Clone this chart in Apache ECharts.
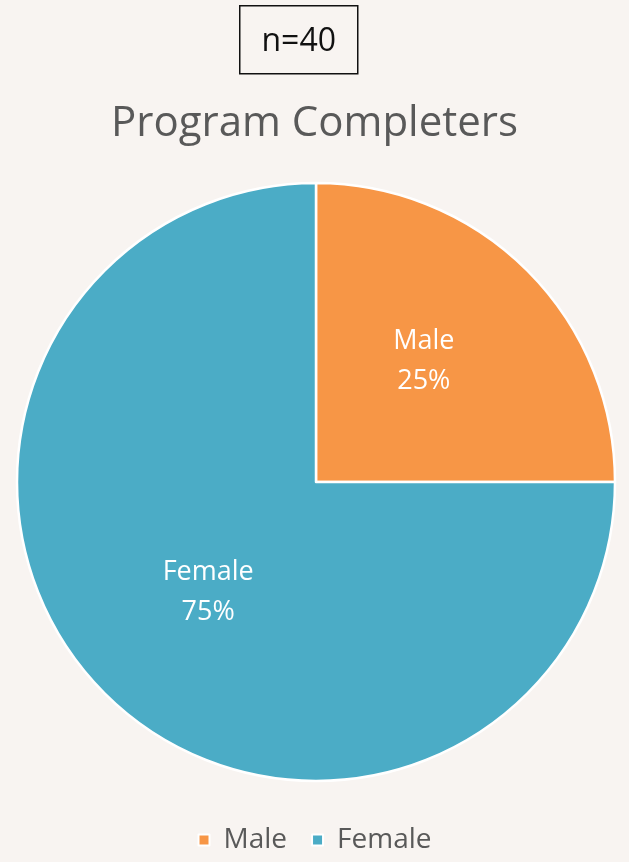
<!DOCTYPE html>
<html><head><meta charset="utf-8">
<script src="https://cdn.jsdelivr.net/npm/echarts@6/dist/echarts.min.js"></script>
<style>html,body{margin:0;padding:0;background:#f8f4f1;}#c{width:629px;height:862px;}</style>
</head><body><div id="c"></div>
<script>
const categories = ["Male", "Female"];
const values = [25, 75];
const colors = ["#F79646", "#4BACC6"];
const titleText = "Program Completers";
const noteText = "n=40";

const chart = echarts.init(document.getElementById('c'));
chart.setOption({
  backgroundColor: '#f8f4f1',
  animation: false,
  graphic: [{
    type: 'group', left: 239, top: 5,
    children: [
      {type: 'rect', shape: {x: 0, y: 0, width: 118, height: 68}, style: {fill: '#f8f4f1', stroke: '#111', lineWidth: 1.5}},
      {type: 'text', style: {text: noteText, x: 59, y: 36, align: 'center', verticalAlign: 'middle', fontSize: 32, fontFamily: 'Open Sans', fill: '#111'}}
    ]
  }],
  title: {text: titleText, left: 'center', top: 98, textStyle: {fontSize: 42, fontWeight: 'normal', color: '#595959', fontFamily: 'Open Sans'}},
  legend: {bottom: 3, left: 'center', itemWidth: 11, itemHeight: 11, itemGap: 24, icon: 'rect',
    textStyle: {fontSize: 28, color: '#595959', fontFamily: 'Open Sans', padding: [0, 0, 0, 9]}, data: categories},
  series: [{
    type: 'pie', center: [316, 482], radius: 299, startAngle: 90, clockwise: true,
    itemStyle: {borderColor: '#ffffff', borderWidth: 2.5},
    label: {show: true, position: 'inner', formatter: '{b}\n{d}%', color: '#fff', fontSize: 27, lineHeight: 40, fontFamily: 'Open Sans'},
    labelLine: {show: false},
    data: categories.map((n, i) => ({name: n, value: values[i], itemStyle: {color: colors[i]},
      label: i === 0 ? {offset: [0, -13]} : {offset: [0, 2]}}))
  }]
});
</script></body></html>
